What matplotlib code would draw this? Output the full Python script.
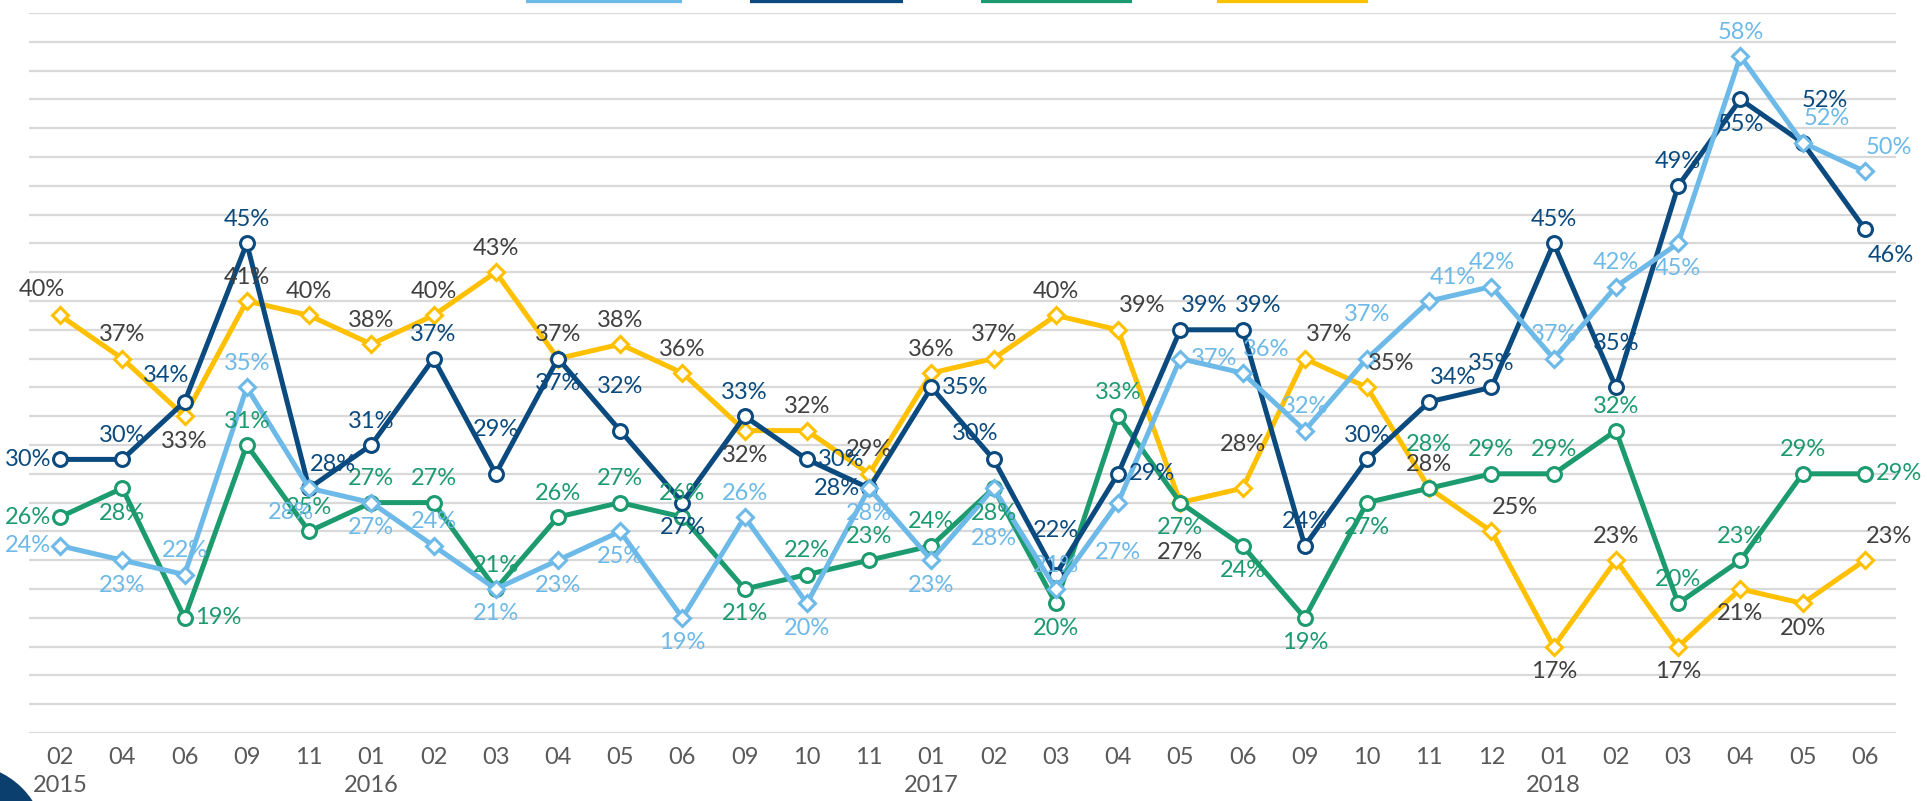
import matplotlib
matplotlib.use("Agg")
import matplotlib.pyplot as plt
from matplotlib.lines import Line2D
from matplotlib.patches import Ellipse

months = ["02", "04", "06", "09", "11",
          "01", "02", "03", "04", "05", "06", "09", "10", "11",
          "01", "02", "03", "04", "05", "06", "09", "10", "11", "12",
          "01", "02", "03", "04", "05", "06"]
years = ["2015", "2016", "2017", "2018"]
year_pos = [0, 5, 14, 24]

light_blue = [24, 23, 22, 35, 28, 27, 24, 21, 23, 25, 19, 26, 20, 28, 23,
              28, 21, 27, 37, 36, 32, 37, 41, 42, 37, 42, 45, 58, 52, 50]
dark_blue = [30, 30, 34, 45, 28, 31, 37, 29, 37, 32, 27, 33, 30, 28, 35,
             30, 22, 29, 39, 39, 24, 30, 34, 35, 45, 35, 49, 55, 52, 46]
green = [26, 28, 19, 31, 25, 27, 27, 21, 26, 27, 26, 21, 22, 23, 24,
         28, 20, 33, 27, 24, 19, 27, 28, 29, 29, 32, 20, 23, 29, 29]
yellow = [40, 37, 33, 41, 40, 38, 40, 43, 37, 38, 36, 32, 32, 29, 36,
          37, 40, 39, 27, 28, 37, 35, 28, 25, 17, 23, 17, 21, 20, 23]

# label placement per point (style only)
pos_lb = "l b a a bl b a b b b b a b b b bb a bb r ar a aa ar a a a b a ar ar".split()
pos_db = "l a al a ar a a aa b aa b a r l r al aa r ar as a a ar a a aa a b aar br".split()
pos_g = "l b r a a a a a a a a b a a a b b a b b b b aa a a a a a a r".split()
pos_y = "al a b a a a a a a a a b a a a a a ar bb aa ar ar a ar b a b b b ar".split()

offs = {"a": (0, 24), "aa": (0, 44), "b": (0, -25), "bb": (0, -50),
        "l": (-32, 0), "r": (34, 0), "al": (-18, 26), "ar": (24, 24),
        "as": (16, 24), "aar": (22, 42), "br": (26, -26), "bl": (-18, -24)}

C_LB = "#6DB9E8"
C_DB = "#0B4A7E"
C_G = "#1B9B6E"
C_Y = "#FFC000"

plt.rcParams["font.family"] = ["Lato", "DejaVu Sans"]

fig = plt.figure(figsize=(19.27, 8.01), dpi=100)
ax = fig.add_axes([29 / 1927, 1 - 733 / 801, (1896 - 29) / 1927, (733 - 13) / 801])
ax.set_xlim(-0.5, 29.5)
ax.set_ylim(11, 61)
ax.set_yticks(range(11, 62, 2))
ax.yaxis.grid(True, color="#D9D9D9", lw=1.6)
ax.set_axisbelow(True)
ax.tick_params(axis="y", left=False, labelleft=False)
ax.tick_params(axis="x", length=0, pad=10, labelsize=17, labelcolor="#595959")
for s in ax.spines.values():
    s.set_visible(False)
x = list(range(len(months)))
ax.set_xticks(x)
ax.set_xticklabels(months)

for name, yr in zip(years, year_pos):
    ax.annotate(name, xy=(yr, 0), xycoords=("data", "axes fraction"),
                xytext=(0, -52 * 0.72), textcoords="offset points",
                ha="center", va="center", fontsize=17, color="#595959",
                annotation_clip=False)

series = [
    (yellow, C_Y, "D", 8, "#404040", pos_y, 2),
    (green, C_G, "o", 10, C_G, pos_g, 3),
    (dark_blue, C_DB, "o", 10, C_DB, pos_db, 4),
    (light_blue, C_LB, "D", 8, C_LB, pos_lb, 5),
]
for vals, col, mk, ms, tcol, pos, z in series:
    ax.plot(x, vals, color=col, lw=3.6, marker=mk, ms=ms, mfc="white",
            mec=col, mew=2.2, zorder=z, clip_on=False)
    for i, v in enumerate(vals):
        dx, dy = offs[pos[i]]
        ax.annotate(f"{v}%", (i, v), xytext=(dx * 0.72, dy * 0.72),
                    textcoords="offset points", ha="center", va="center",
                    fontsize=17, color=tcol, zorder=10, annotation_clip=False)

# legend swatches (text cut off above the canvas)
for x0, x1, col in [(526, 682, C_LB), (750, 903, C_DB),
                    (981, 1132, C_G), (1217, 1368, C_Y)]:
    fig.add_artist(Line2D([x0 / 1927, x1 / 1927], [1, 1], color=col,
                          lw=4.5, solid_capstyle="butt"))

fig.add_artist(Ellipse((-35 / 1927, 1 - 845 / 801), 160 / 1927, 160 / 801,
                       color="#0B3F6E"))

fig.savefig("out.png", dpi=100)
